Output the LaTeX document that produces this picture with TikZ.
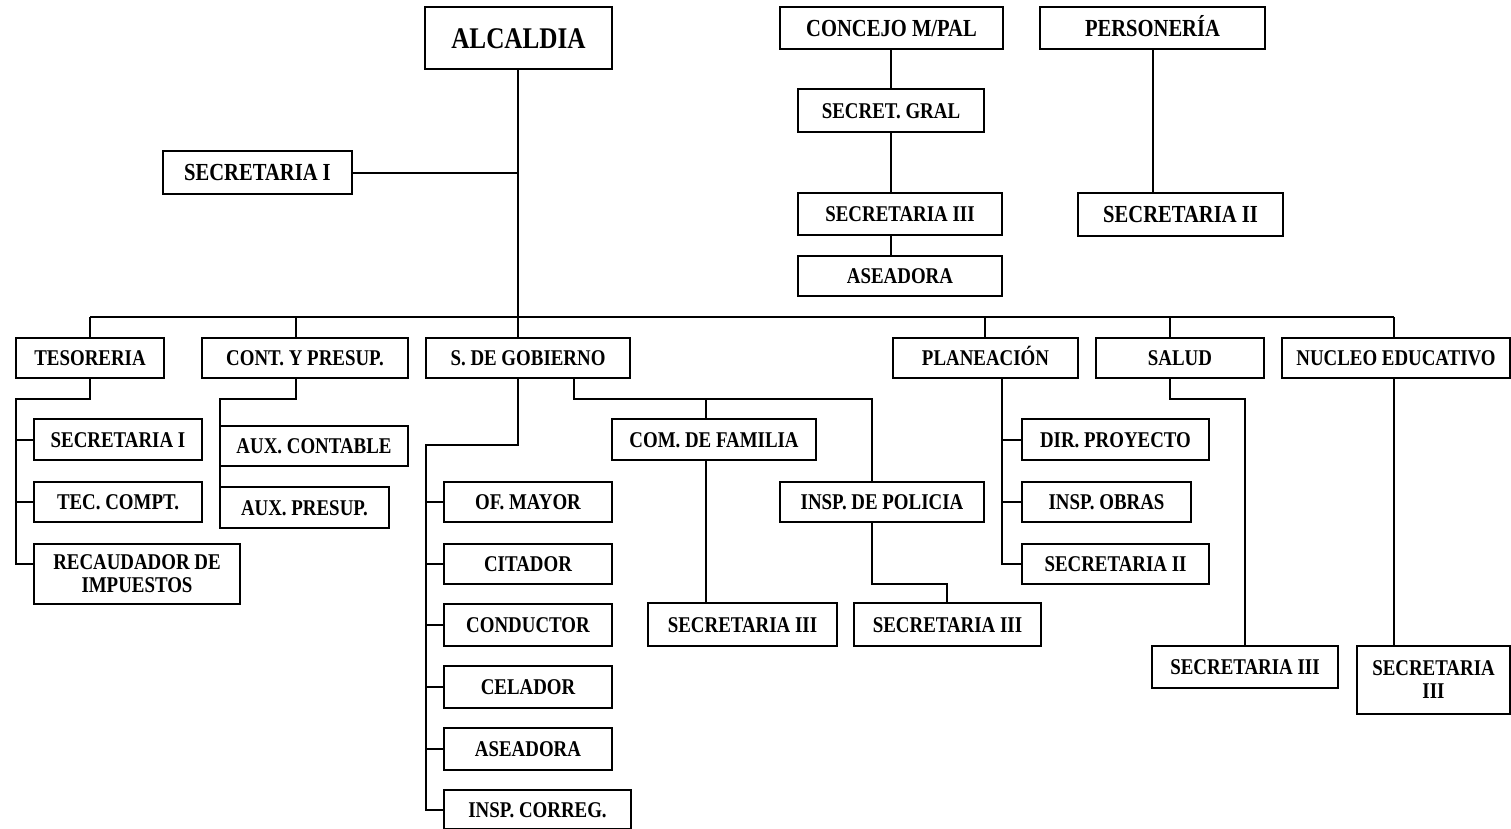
\documentclass[tikz,border=0pt]{standalone}
\usepackage{fontspec}
\setmainfont{Liberation Serif}[FakeStretch=0.84]
\tikzset{
  bxm/.style={draw, line width=2pt, inner sep=0pt, outer sep=0pt, align=center,
    font=\bfseries\fontsize{22.5}{23}\selectfont},
  bx/.style={bxm, text height=15pt, text depth=0pt},
  bxbig/.style={bx, font=\bfseries\fontsize{24.5}{25}\selectfont, text height=16pt},
  bxhuge/.style={bx, font=\bfseries\fontsize{30}{30}\selectfont, text height=20pt},
  ln/.style={line width=2pt},
}
\newcommand\obox[7][bx]{\node[#1, minimum width={#5-#3}, minimum height={#6-#4}] (#2) at ({(#3+#5)/2},{(#4+#6)/2}) {#7};}
\begin{document}
\begin{tikzpicture}[x=1pt,y=-1pt]
\useasboundingbox (0,0) rectangle (1511,828);
% top
\obox[bxhuge]{alc}{425}{7}{612}{69}{ALCALDIA}
\obox[bxbig]{sec1}{163}{151}{352}{194}{SECRETARIA I}
\obox[bxbig]{conc}{780}{7}{1003}{49}{CONCEJO M/PAL}
\obox{gral}{798}{89}{984}{132}{SECRET. GRAL}
\obox{s3t}{798}{193}{1002}{235}{SECRETARIA III}
\obox{aset}{798}{256}{1002}{296}{ASEADORA}
\obox[bxbig]{pers}{1040}{7}{1265}{49}{PERSONERÍA}
\obox[bxbig]{s2t}{1078}{193}{1283}{236}{SECRETARIA II}
% second level
\obox{tes}{16}{338}{164}{378}{TESORERIA}
\obox{cont}{202}{338}{408}{378}{CONT. Y PRESUP.}
\obox{gob}{426}{338}{630}{378}{S. DE GOBIERNO}
\obox{pl}{893}{338}{1078}{378}{PLANEACIÓN}
\obox{sal}{1096}{338}{1264}{378}{SALUD}
\obox{nuc}{1282}{338}{1510}{378}{NUCLEO EDUCATIVO}
% third level
\obox{s1t}{34}{419}{202}{460}{SECRETARIA I}
\obox{tc}{34}{482}{202}{522}{TEC. COMPT.}
\obox[bxm]{rec}{34}{544}{240}{604}{RECAUDADOR DE\\IMPUESTOS}
\obox{ac}{220}{426}{408}{466}{AUX. CONTABLE}
\obox{ap}{220}{487}{389}{528}{AUX. PRESUP.}
\obox{of}{444}{482}{612}{522}{OF. MAYOR}
\obox{cit}{444}{544}{612}{584}{CITADOR}
\obox{cond}{444}{604}{612}{646}{CONDUCTOR}
\obox{cel}{444}{666}{612}{708}{CELADOR}
\obox{ase}{444}{728}{612}{770}{ASEADORA}
\obox{ic}{444}{790}{631}{829}{INSP. CORREG.}
\obox{cf}{612}{419}{816}{460}{COM. DE FAMILIA}
\obox{ip}{780}{482}{984}{522}{INSP. DE POLICIA}
\obox{s3cf}{648}{603}{837}{646}{SECRETARIA III}
\obox{s3ip}{854}{603}{1041}{646}{SECRETARIA III}
\obox{dp}{1022}{419}{1209}{460}{DIR. PROYECTO}
\obox{io}{1022}{482}{1191}{522}{INSP. OBRAS}
\obox{s2p}{1022}{544}{1209}{584}{SECRETARIA II}
\obox{s3s}{1152}{646}{1338}{688}{SECRETARIA III}
\obox[bxm]{s3n}{1357}{646}{1510}{714}{SECRETARIA\\III}
% coordinates
\coordinate (d1) at (90,317);
\coordinate (d2) at (296,317);
\coordinate (d3) at (518,317);
\coordinate (d4) at (985,317);
\coordinate (d5) at (1170,317);
\coordinate (d6) at (1394,317);
\coordinate (tesT) at (16,399);
\coordinate (contT) at (220,399);
\coordinate (gobT) at (426,445);
\coordinate (gB) at (574,399);
\coordinate (cfx) at (706,399);
\coordinate (gR) at (872,399);
\coordinate (ipT) at (947,584);
\coordinate (pX) at (1002,378);
\coordinate (sT) at (1245,399);
% connectors
\draw[ln] (d3 |- alc.south) -- (d3 |- gob.north);
\draw[ln] (sec1.east) -- (sec1.east -| d3);
\draw[ln] (d1) -- (d6);
\draw[ln] (d1) -- (d1 |- tes.north);
\draw[ln] (d2) -- (d2 |- cont.north);
\draw[ln] (d4) -- (d4 |- pl.north);
\draw[ln] (d5) -- (d5 |- sal.north);
\draw[ln] (d6) -- (d6 |- nuc.north);
\draw[ln] (conc.south -| gral.north) -- (gral.north);
\draw[ln] (gral.south) -- (gral.south |- s3t.north);
\draw[ln] (gral.south |- s3t.south) -- (gral.south |- aset.north);
\draw[ln] (pers.south) -- (pers.south |- s2t.north);
% tesoreria
\draw[ln] (tes.south) |- (tesT) |- ([yshift=10pt]rec.west);
\draw[ln] (tesT |- s1t.west) -- (s1t.west);
\draw[ln] (tesT |- tc.west) -- (tc.west);
% contabilidad
\draw[ln] (d2 |- cont.south) |- (contT) -- (ap.north west);
% gobierno
\draw[ln] (d3 |- gob.south) |- (gobT) |- (ic.west);
\draw[ln] (gobT |- of.west) -- (of.west);
\draw[ln] (gobT |- cit.west) -- (cit.west);
\draw[ln] (gobT |- cond.west) -- (cond.west);
\draw[ln] (gobT |- cel.west) -- (cel.west);
\draw[ln] (gobT |- ase.west) -- (ase.west);
\draw[ln] (gB |- gob.south) -- (gB) -- (gR) -- (gR |- ip.north);
\draw[ln] (cfx) -- (cfx |- cf.north);
\draw[ln] (cfx |- cf.south) -- (cfx |- s3cf.north);
\draw[ln] (gR |- ip.south) |- (ipT) -- (ipT |- s3ip.north);
% planeacion
\draw[ln] (pX |- pl.south) |- (s2p.west);
\draw[ln] (pX |- dp.west) -- (dp.west);
\draw[ln] (pX |- io.west) -- (io.west);
% salud
\draw[ln] (d5 |- sal.south) |- (sT) -- (sT |- s3s.north);
% nucleo
\draw[ln] (d6 |- nuc.south) -- (d6 |- s3n.north);
\end{tikzpicture}
\end{document}
